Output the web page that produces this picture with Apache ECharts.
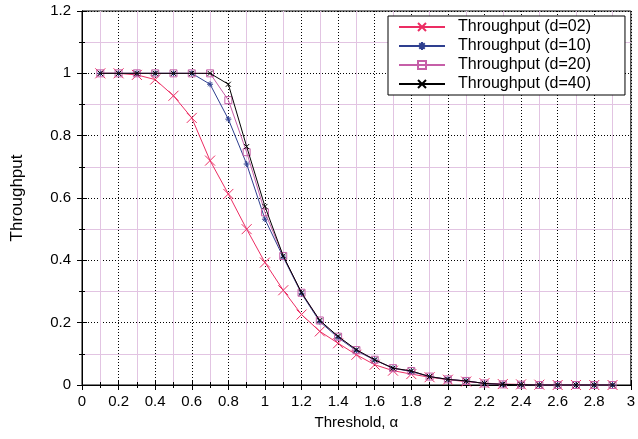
<!DOCTYPE html>
<html><head><meta charset="utf-8">
<script src="https://cdn.jsdelivr.net/npm/echarts@6/dist/echarts.min.js"></script>
<style>html,body{margin:0;padding:0;background:#fff}#c{width:638px;height:439px}</style>
</head><body><div id="c"></div>
<script>
const thresholds = [0.1,0.2,0.3,0.4,0.5,0.6,0.7,0.8,0.9,1.0,1.1,1.2,1.3,1.4,1.5,1.6,1.7,1.8,1.9,2.0,2.1,2.2,2.3,2.4,2.5,2.6,2.7,2.8,2.9];
const d02 = [1,1,0.995,0.98,0.928,0.857,0.72,0.613,0.5,0.393,0.304,0.226,0.172,0.134,0.097,0.065,0.046,0.035,0.025,0.017,0.011,0.006,0.003,0.002,0.001,0,0,0,0];
const d10 = [1,1,1,1,1,1,0.965,0.853,0.709,0.532,0.41,0.293,0.203,0.152,0.11,0.08,0.054,0.043,0.027,0.018,0.013,0.005,0.002,0.001,0,0,0,0,0];
const d20 = [1,1,1,1,1,1,1,0.914,0.747,0.554,0.414,0.296,0.207,0.155,0.112,0.081,0.054,0.045,0.027,0.018,0.013,0.005,0.002,0.001,0,0,0,0,0];
const d40 = [1,1,1,1,1,1,1,0.965,0.765,0.573,0.414,0.296,0.207,0.156,0.113,0.081,0.054,0.045,0.027,0.018,0.013,0.005,0.002,0.001,0,0,0,0,0];
const seriesNames = ['Throughput (d=02)','Throughput (d=10)','Throughput (d=20)','Throughput (d=40)'];
const xTicks = {min:0,max:3,interval:0.2};
const yTicks = {min:0,max:1.2,interval:0.2};

const FONT = '"Liberation Sans", Arial, sans-serif';
const crossPath = 'path://M0,0L10,10M10,0L0,10';
const starPath = 'path://M5,0L5,10M0,5L10,5M1.6,1.6L8.4,8.4M8.4,1.6L1.6,8.4';
function pairs(ys){return thresholds.map((x,i)=>[x,ys[i]]);}
function mk(name, ys, color, symbol, size, z){
  return {name, type:'line', data:pairs(ys), symbol, symbolSize:size, z,
    lineStyle:{color, width:1}, itemStyle:{color:'none', borderColor:color, borderWidth:1},
    emphasis:{disabled:true}, animation:false};
}
const chart = echarts.init(document.getElementById('c'));
const axisCommon = {
  axisLine:{show:true,lineStyle:{color:'#000',width:1}},
  axisTick:{show:true,inside:true,length:5,lineStyle:{color:'#000'}},
  minorTick:{show:true,splitNumber:2,length:3,lineStyle:{color:'#000'}},
};
chart.setOption({
  animation:false,
  grid:{left:82,right:6,top:11,bottom:54,show:true,borderColor:'#000',borderWidth:1,backgroundColor:'transparent'},
  legend:{orient:'vertical',left:388,top:16,itemWidth:46,itemHeight:10,itemGap:3,
    backgroundColor:'#fff',borderColor:'#000',borderWidth:1,padding:[3,34,3,10],
    textStyle:{fontFamily:FONT,fontSize:16,color:'#000',padding:[0,0,0,8]},data:seriesNames},
  xAxis:[{type:'value',min:xTicks.min,max:xTicks.max,interval:xTicks.interval,
    name:'Threshold, \u03b1',nameLocation:'middle',nameGap:30,
    nameTextStyle:{fontFamily:FONT,fontSize:15,color:'#000'},
    axisLabel:{fontFamily:FONT,fontSize:15,color:'#000',margin:9},
    ...axisCommon,
    splitLine:{show:true,lineStyle:{color:'#000',type:[1,2],width:1}},
    minorSplitLine:{show:true,lineStyle:{color:'#e2c4e2',width:1}}},
   {type:'value',position:'top',min:xTicks.min,max:xTicks.max,interval:xTicks.interval,
    axisLabel:{show:false},...axisCommon,splitLine:{show:false}}],
  yAxis:[{type:'value',min:yTicks.min,max:yTicks.max,interval:yTicks.interval,
    name:'Throughput',nameLocation:'middle',nameGap:56,
    nameTextStyle:{fontFamily:FONT,fontSize:17,color:'#000'},
    axisLabel:{fontFamily:FONT,fontSize:15,color:'#000',margin:11},
    ...axisCommon,
    splitLine:{show:true,lineStyle:{color:'#000',type:[1,2],width:1}},
    minorSplitLine:{show:true,lineStyle:{color:'#e2c4e2',width:1}}},
   {type:'value',position:'right',min:yTicks.min,max:yTicks.max,interval:yTicks.interval,
    axisLabel:{show:false},...axisCommon,splitLine:{show:false}}],
  series:[
    mk(seriesNames[0], d02, '#ec2d63', crossPath, 10, 2),
    mk(seriesNames[1], d10, '#2e3f8f', starPath, 6, 3),
    mk(seriesNames[2], d20, '#c65fa8', 'rect', 7, 4),
    mk(seriesNames[3], d40, '#000000', crossPath, 5, 5)
  ]
});
</script></body></html>
